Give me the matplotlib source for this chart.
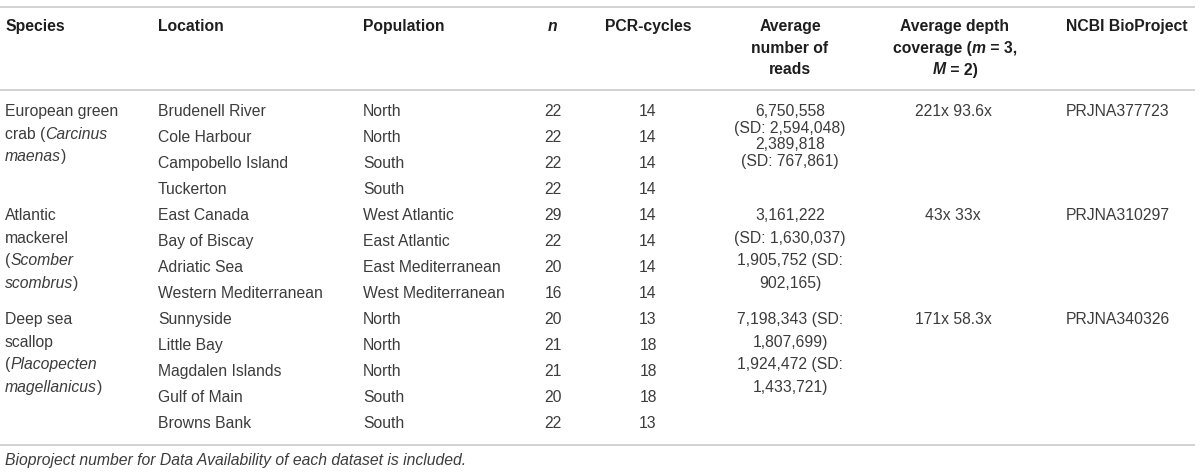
import matplotlib
matplotlib.use('Agg')
import matplotlib.pyplot as plt

# table content
species = [['European green', 'crab (|Carcinus', 'maenas|)'],
           ['Atlantic', 'mackerel', '(|Scomber', 'scombrus|)'],
           ['Deep sea', 'scallop', '(|Placopecten', 'magellanicus|)']]
locations = ['Brudenell River', 'Cole Harbour', 'Campobello Island', 'Tuckerton',
             'East Canada', 'Bay of Biscay', 'Adriatic Sea', 'Western Mediterranean',
             'Sunnyside', 'Little Bay', 'Magdalen Islands', 'Gulf of Main', 'Browns Bank']
populations = ['North', 'North', 'South', 'South',
               'West Atlantic', 'East Atlantic', 'East Mediterranean', 'West Mediterranean',
               'North', 'North', 'North', 'South', 'South']
n_vals = [22, 22, 22, 22, 29, 22, 20, 16, 20, 21, 21, 20, 22]
pcr = [14, 14, 14, 14, 14, 14, 14, 14, 13, 18, 18, 18, 13]
reads = [['6,750,558', '(SD: 2,594,048)', '2,389,818', '(SD: 767,861)'],
         ['3,161,222', '(SD: 1,630,037)', '1,905,752 (SD:', '902,165)'],
         ['7,198,343 (SD:', '1,807,699)', '1,924,472 (SD:', '1,433,721)']]
depth = ['221x 93.6x', '43x 33x', '171x 58.3x']
bioproject = ['PRJNA377723', 'PRJNA310297', 'PRJNA340326']
group_sizes = [4, 4, 5]
footnote = 'Bioproject number for Data Availability of each dataset is included.'

FONT = 'Liberation Sans'
SIZE = 11.3
BODY = '#3c3c3c'
HEAD = '#1e1e1e'

fig = plt.figure(figsize=(12, 4.75), dpi=100)
ax = fig.add_axes([0, 0, 1, 1])
ax.set_xlim(0, 1200)
ax.set_ylim(475, 0)
ax.axis('off')
renderer = fig.canvas.get_renderer()


def rich(x, y, parts, ha='left', **kw):
    # parts: list of (text, italic) drawn one after another
    arts = []
    for s, it in parts:
        t = ax.text(0, y, s, va='center', ha='left', family=FONT, size=SIZE,
                    style='italic' if it else 'normal', **kw)
        arts.append(t)
    widths = [a.get_window_extent(renderer).width for a in arts]
    total = sum(widths)
    cx = x - total / 2 if ha == 'center' else x
    for a, w in zip(arts, widths):
        a.set_x(cx)
        cx += w


def species_line(s):
    # "|" marks the switch between roman and italic
    if '|' not in s:
        return [(s, False)]
    a, b = s.split('|')
    if a.endswith('('):
        return [(a, False), (b, True)]
    return [(a, True), (b, False)]


# rules
for yy in [6.7, 90, 445]:
    ax.plot([0, 1195], [yy, yy], color='#cfcfcf', lw=1.3, solid_capstyle='butt')

# header
hy = [26.7, 48.3, 70]
hd = dict(color=HEAD, weight='bold')
rich(5, hy[0], [('Species', False)], **hd)
rich(158, hy[0], [('Location', False)], **hd)
rich(363, hy[0], [('Population', False)], **hd)
rich(553, hy[0], [('n', True)], ha='center', **hd)
rich(648, hy[0], [('PCR-cycles', False)], ha='center', **hd)
for i, s in enumerate(['Average', 'number of', 'reads']):
    rich(790, hy[i], [(s, False)], ha='center', **hd)
rich(955, hy[0], [('Average depth', False)], ha='center', **hd)
rich(955, hy[1], [('coverage (', False), ('m', True), (' = 3,', False)], ha='center', **hd)
rich(955, hy[2], [('M', True), (' = 2)', False)], ha='center', **hd)
rich(1066, hy[0], [('NCBI BioProject', False)], **hd)

# body
row0, step = 111.7, 26.0
sp_gap = 22.5
reads_gap = [16.5, 22.5, 22.5]
bd = dict(color=BODY)
r = 0
for g, size in enumerate(group_sizes):
    gy = row0 + r * step
    for k, s in enumerate(species[g]):
        rich(5, gy + k * sp_gap, species_line(s), **bd)
    for k, s in enumerate(reads[g]):
        rich(790, gy + k * reads_gap[g], [(s, False)], ha='center', **bd)
    rich(953, gy, [(depth[g], False)], ha='center', **bd)
    rich(1066, gy, [(bioproject[g], False)], **bd)
    for j in range(size):
        y = row0 + (r + j) * step
        rich(158, y, [(locations[r + j], False)], **bd)
        rich(363, y, [(populations[r + j], False)], **bd)
        rich(553, y, [(str(n_vals[r + j]), False)], ha='center', **bd)
        rich(648, y, [(str(pcr[r + j]), False)], ha='center', **bd)
    r += size

rich(5, 460, [(footnote, True)], **bd)

fig.savefig('out.png', dpi=100, facecolor='white')
